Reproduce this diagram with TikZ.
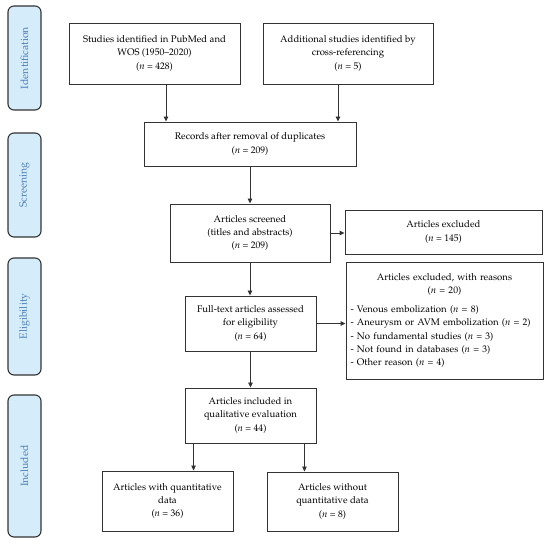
\documentclass[tikz,border=0pt]{standalone}
\usepackage[T1]{fontenc}
\usepackage{mathpazo}
\usetikzlibrary{arrows.meta}
\definecolor{labfill}{HTML}{D5ECFB}
\definecolor{labtext}{HTML}{4F7FB8}
\definecolor{edge}{HTML}{333333}
\tikzset{
  box/.style={draw=edge, line width=0.9pt, align=center, inner sep=2pt, font=\fontsize{9.6}{13.2}\selectfont},
  phase/.style={draw=edge, line width=1.1pt, rounded corners=6pt, fill=labfill, minimum width=33pt, text=labtext, font=\fontsize{10.5}{12}\selectfont},
  arr/.style={draw=edge, line width=0.9pt, -{Triangle[length=5pt,width=4.5pt]}}
}
\begin{document}
\begin{tikzpicture}[x=1pt,y=-1pt]
\useasboundingbox (0,0) rectangle (550,545);
% phase labels
\node[phase, minimum height=104pt] (pid) at (24.5,58) {\rotatebox{90}{Identification}};
\node[phase, minimum height=104pt] (psc) at (24.5,185) {\rotatebox{90}{Screening}};
\node[phase, minimum height=117pt] (pel) at (24.5,316.5) {\rotatebox{90}{Eligibility}};
\node[phase, minimum height=142pt] (pin) at (24.5,466) {\rotatebox{90}{Included}};
% boxes
\node[box, minimum width=171pt, minimum height=61pt] (b1) at (154.5,53.5) {Studies identified in PubMed and\\WOS (1950--2020)\\(\textit{n} = 428)};
\node[box, minimum width=170pt, minimum height=61pt] (b2) at (348,53.5) {Additional studies identified by\\cross-referencing\\(\textit{n} = 5)};
\node[box, minimum width=212pt, minimum height=44pt] (b3) at (250,144) {Records after removal of duplicates\\(\textit{n} = 209)};
\node[box, minimum width=160pt, minimum height=58pt] (b4) at (250,233) {Articles screened\\(titles and abstracts)\\(\textit{n} = 209)};
\node[box, minimum width=197pt, minimum height=44pt] (b5) at (443.5,232) {Articles excluded\\(\textit{n} = 145)};
\node[box, minimum width=131pt, minimum height=55pt] (b6) at (250.5,323.5) {Full-text articles assessed\\for eligibility\\(\textit{n} = 64)};
\node[box, minimum width=197pt, minimum height=117pt, text width=188pt, align=left] (b7) at (444.5,320.5) {\centering Articles excluded, with reasons\\(\textit{n} = 20)\par\vspace{6pt}\raggedright
- Venous embolization (\textit{n} = 8)\\
- Aneurysm or AVM embolization (\textit{n} = 2)\\
- No fundamental studies (\textit{n} = 3)\\
- Not found in databases (\textit{n} = 3)\\
- Other reason (\textit{n} = 4)\par};
\node[box, minimum width=131pt, minimum height=55pt] (b8) at (250.5,415.5) {Articles included in\\qualitative evaluation\\(\textit{n} = 44)};
\node[box, minimum width=131pt, minimum height=60pt] (b9) at (167.5,501) {Articles with quantitative\\data\\(\textit{n} = 36)};
\node[box, minimum width=131pt, minimum height=59pt] (b10) at (332.5,501.5) {Articles without\\quantitative data\\(\textit{n} = 8)};
% connectors
\draw[arr] ([xshift=11.5pt]b1.south) -- ([xshift=11.5pt]b1.south |- b3.north);
\draw[arr] ([xshift=-10pt]b2.south) -- ([xshift=-10pt]b2.south |- b3.north);
\draw[arr] (b3.south) -- (b3.south |- b4.north);
\draw[arr] (b4.east) -- (b4.east -| b5.west);
\draw[arr] (b4.south) -- (b4.south |- b6.north);
\draw[arr] (b6.east) -- (b6.east -| b7.west);
\draw[arr] (b6.south) -- (b6.south |- b8.north);
\draw[arr] ([xshift=9pt]b8.south west) -- ([xshift=9pt]b8.south west |- b9.north);
\draw[arr] ([xshift=-12pt]b8.south east) -- ([xshift=-12pt]b8.south east |- b10.north);
\end{tikzpicture}
\end{document}
